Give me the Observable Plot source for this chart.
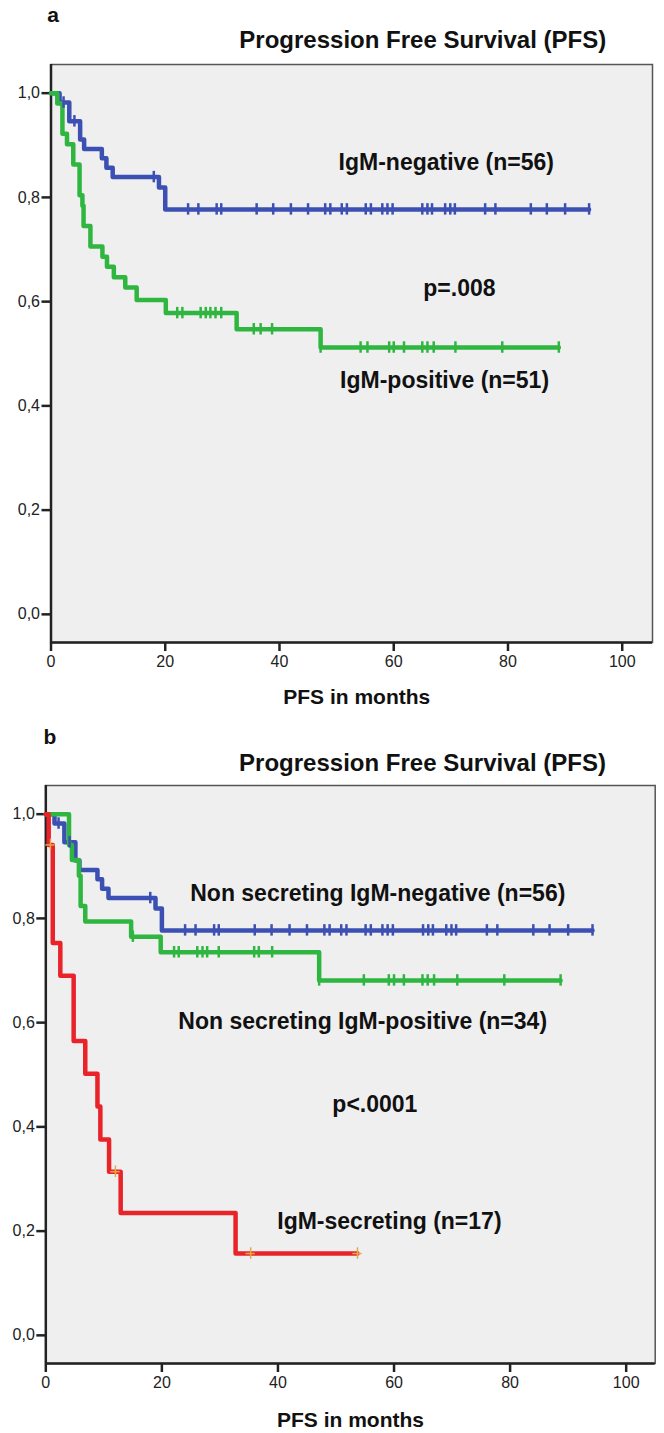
<!DOCTYPE html>
<html><head><meta charset="utf-8">
<script src="https://cdn.jsdelivr.net/npm/d3@7"></script>
<script src="https://cdn.jsdelivr.net/npm/@observablehq/plot@0.6"></script>
<style>
body{margin:0;background:#fff;}
#chart{width:664px;}
#chart svg{display:block;}
</style></head><body><div id="chart"></div>
<script>
// ---------- data ----------
const titleText = "Progression Free Survival (PFS)";
const xLabel = "PFS in months";
const xTicks = [0, 20, 40, 60, 80, 100];
const yTicks = [0, 0.2, 0.4, 0.6, 0.8, 1.0];

// IgM-negative (n=56) — same group in both panels
const negTimes = [1.5, 3.2, 5.1, 5.8, 8.9, 9.7, 10.8, 18.9, 20.0];
const negSurv  = [0.982, 0.946, 0.911, 0.893, 0.875, 0.857, 0.839, 0.819, 0.777];
const negCensor = [2.2, 4.1, 18.0, 24.0, 25.8, 29.0, 29.8, 36.0, 38.9, 42.0, 45.0, 48.0, 48.9, 50.9, 51.8, 55.1, 56.0, 58.0, 58.9, 59.8, 65.0, 65.9, 66.7, 69.0, 69.9, 70.7, 76.0, 77.8, 84.0, 86.8, 90.0, 94.2];

// IgM-positive (n=51)
const posTimes = [1.1, 2.0, 2.8, 3.9, 5.0, 5.5, 5.7, 6.9, 9.0, 9.8, 11.0, 13.0, 15.0, 20.1, 32.5, 47.2];
const posSurv  = [0.980, 0.922, 0.902, 0.863, 0.804, 0.784, 0.745, 0.706, 0.686, 0.667, 0.647, 0.627, 0.603, 0.578, 0.547, 0.512];
const posCensor = [22.1, 23.0, 26.2, 27.1, 27.9, 28.8, 29.8, 35.5, 36.7, 38.7, 47.2, 54.2, 55.4, 59.2, 60.0, 61.8, 65.0, 65.9, 67.0, 70.8, 79.0, 88.9];

// Non secreting IgM-positive (n=34)
const nsTimes = [4.0, 4.5, 5.7, 6.0, 6.8, 14.7, 19.8, 47.1];
const nsSurv  = [0.941, 0.912, 0.882, 0.824, 0.794, 0.765, 0.735, 0.681];
const nsCensor = [15.0, 22.1, 22.9, 26.1, 27.0, 27.8, 29.8, 35.9, 36.7, 39.0, 47.1, 54.8, 59.1, 60.0, 61.7, 64.9, 65.8, 66.9, 70.9, 79.0, 88.7];

// IgM-secreting (n=17)
const secTimes = [0.5, 1.2, 2.5, 4.8, 6.8, 8.9, 9.4, 10.9, 12.9, 32.7];
const secSurv  = [0.941, 0.753, 0.690, 0.565, 0.502, 0.439, 0.376, 0.314, 0.235, 0.157];
const secCensor = [0.8, 12.0, 35.3, 53.7];

// annotations
const notesA = [
  {label: "IgM-negative (n=56)", x: 69.2, y: 0.866},
  {label: "p=.008", x: 71.5, y: 0.625},
  {label: "IgM-positive (n=51)", x: 68.9, y: 0.448}
];
const notesB = [
  {label: "Non secreting IgM-negative (n=56)", x: 57.2, y: 0.848},
  {label: "Non secreting IgM-positive (n=34)", x: 54.6, y: 0.602},
  {label: "p<.0001", x: 56.7, y: 0.4425},
  {label: "IgM-secreting (n=17)", x: 59.2, y: 0.219}
];

const BLUE = "#3b50b2", GREEN = "#2fb640", RED = "#e8242a", ORANGE = "#e2a84a";
const FONT = "'Liberation Sans', Arial, sans-serif";

// ---------- helpers ----------
function stepData(times, surv, censor) {
  const end = Math.max(d3.max(censor), d3.max(times));
  const pts = [{t: 0, s: 1}];
  times.forEach((t, i) => pts.push({t, s: surv[i]}));
  pts.push({t: end, s: surv[surv.length - 1]});
  return pts;
}
function survAt(times, surv, t) {
  let s = 1;
  times.forEach((tt, i) => { if (tt <= t) s = surv[i]; });
  return s;
}
function censorData(times, surv, censor) {
  return censor.map(t => ({t, s: survAt(times, surv, t)}));
}

function panel(o) {
  const yDom = [-0.054, 1.055];
  const marks = [
    Plot.frame({fill: "#efefef", stroke: "#555", strokeWidth: 1.5}),
    Plot.ruleX([0], {stroke: "#222", strokeWidth: 2.5}),
    Plot.ruleY([yDom[0]], {stroke: "#222", strokeWidth: 2.5}),
    Plot.axisY(yTicks, {tickSize: 9, tickPadding: 2, strokeWidth: 2.5, stroke: "#222",
      tickFormat: d => d.toFixed(1).replace(".", ","), fontSize: 16, fill: "#222", label: null}),
    Plot.axisX(xTicks, {tickSize: 9, tickPadding: 4, strokeWidth: 2.5, stroke: "#222",
      tickFormat: d => String(d), fontSize: 16, fill: "#222", label: null})
  ];
  for (const s of o.series) {
    marks.push(Plot.line(stepData(s.times, s.surv, s.censor), {x: "t", y: "s", curve: "step-after", stroke: s.color, strokeWidth: 4.5}));
  }
  for (const s of o.series) {
    const cd = censorData(s.times, s.surv, s.censor);
    const c = s.censorColor || s.color;
    marks.push(Plot.ruleX(cd, {x: "t", y1: d => d.s - 0.011, y2: d => d.s + 0.011, stroke: c, strokeWidth: s.censorWidth || 2.5}));
    if (s.censorColor) {
      marks.push(Plot.ruleY(cd, {y: "s", x1: d => d.t - 0.8, x2: d => d.t + 0.8, stroke: c, strokeWidth: 1.5}));
    }
  }
  marks.push(Plot.text(o.notes, {x: "x", y: "y", text: "label", fontSize: 23, fontWeight: "bold", fill: "#111", textAnchor: "middle"}));
  marks.push(Plot.text([titleText], {text: d => d, frameAnchor: "top", dx: o.titleDx, dy: o.titleDy, fontSize: 24, fontWeight: "bold", fill: "#111", lineAnchor: "middle"}));
  marks.push(Plot.text([o.letter], {text: d => d, frameAnchor: "top-left", dx: o.letterDx, dy: o.letterDy, fontSize: 21, fontWeight: "bold", fill: "#111", lineAnchor: "middle", textAnchor: "middle"}));
  marks.push(Plot.text([xLabel], {text: d => d, frameAnchor: "bottom", dx: o.xlabDx, dy: o.xlabDy, fontSize: 21, fontWeight: "bold", fill: "#111", lineAnchor: "middle"}));
  return Plot.plot({
    width: 664, height: o.height,
    marginLeft: o.mL, marginRight: o.mR, marginTop: o.mT, marginBottom: o.mB,
    x: {domain: [0, o.xMax], axis: null},
    y: {domain: yDom, axis: null},
    style: {fontFamily: FONT, background: "#fff", overflow: "visible"},
    marks
  });
}

const chartA = panel({
  height: 715, mL: 50.5, mR: 12, mT: 64, mB: 73, xMax: 105.3,
  titleDx: 71, titleDy: -24, letter: "a", letterDx: 2, letterDy: -49,
  xlabDx: 5, xlabDy: 55,
  notes: notesA,
  series: [
    {times: negTimes, surv: negSurv, censor: negCensor, color: BLUE},
    {times: posTimes, surv: posSurv, censor: posCensor, color: GREEN}
  ]
});
const chartB = panel({
  height: 718, mL: 45.3, mR: 9.3, mT: 70, mB: 70, xMax: 105,
  titleDx: 72, titleDy: -22, letter: "b", letterDx: 4, letterDy: -48,
  xlabDx: 0, xlabDy: 57,
  notes: notesB,
  series: [
    {times: negTimes, surv: negSurv, censor: negCensor, color: BLUE},
    {times: nsTimes, surv: nsSurv, censor: nsCensor, color: GREEN},
    {times: secTimes, surv: secSurv, censor: secCensor, color: RED, censorColor: ORANGE, censorWidth: 1.5}
  ]
});
document.getElementById("chart").append(chartA, chartB);
</script>
</body></html>
